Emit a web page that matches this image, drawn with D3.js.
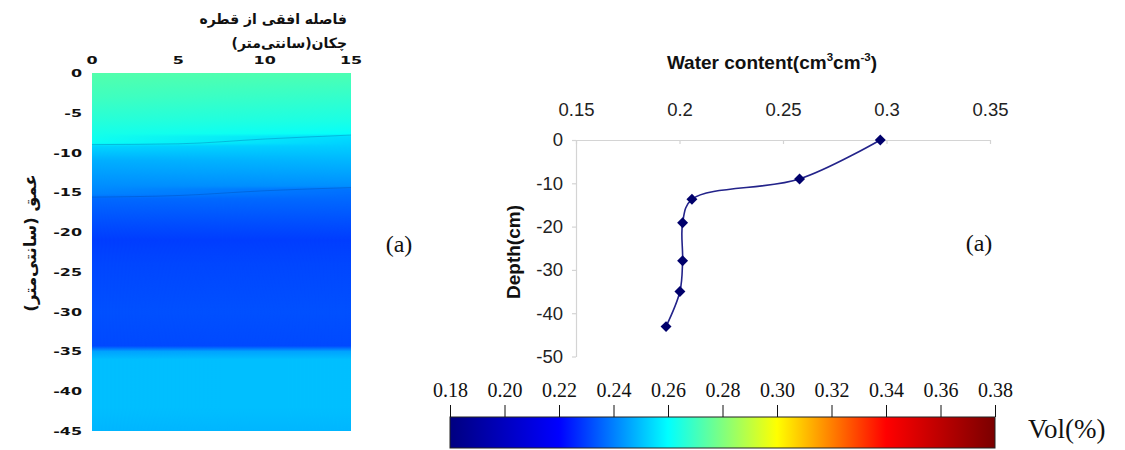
<!DOCTYPE html>
<html>
<head>
<meta charset="utf-8">
<script src="https://cdn.jsdelivr.net/npm/d3@7"></script>
<style>
  html, body { margin: 0; padding: 0; background: #fff; }
  svg { display: block; }
</style>
</head>
<body>
<svg id="chart" width="1125" height="450"></svg>
<script>
// ---------------- data ----------------
// Left panel: simulated water content profile (Vol) at x = 0 cm and x = 15 cm
const profileDepthLeft  = [0, -3, -6, -8.8, -9.2, -11, -15.2, -15.8, -19, -21, -24, -30, -34.3, -35, -36, -42, -45];
const profileValueLeft  = [0.273, 0.270, 0.266, 0.2615, 0.2535, 0.2475, 0.2405, 0.2365, 0.232, 0.2295, 0.231, 0.2325, 0.2315, 0.2455, 0.250, 0.250, 0.2485];
const profileDepthRight = [0, -3, -6, -7.6, -8.0, -11, -14.2, -14.6, -19, -21, -24, -30, -34.3, -35, -36, -42, -45];
const profileValueRight = [0.272, 0.268, 0.264, 0.2610, 0.2545, 0.2485, 0.2425, 0.238, 0.232, 0.2295, 0.231, 0.2325, 0.2315, 0.2455, 0.250, 0.250, 0.2485];
// faint contour lines in the left panel (distance cm, depth cm)
const contour1 = [[0, -9.0], [5, -8.9], [10, -8.3], [15, -7.8]];
const contour2 = [[0, -15.6], [5, -15.4], [10, -14.8], [15, -14.4]];
const heatXTicks = [0, 5, 10, 15];
const heatYTicks = [0, -5, -10, -15, -20, -25, -30, -35, -40, -45];

// Right panel: measured water content vs depth
const waterContent = [0.297, 0.258, 0.206, 0.2015, 0.2015, 0.2002, 0.1935];
const depth        = [0, -9, -13.7, -19.1, -27.9, -35, -43.1];
const wcTicks = [0.15, 0.2, 0.25, 0.3, 0.35];
const wcTickLabels = ["0.15", "0.2", "0.25", "0.3", "0.35"];
const depthTicks = [0, -10, -20, -30, -40, -50];

// Colour bar
const cbStops  = [0.18, 0.22, 0.26, 0.30, 0.34, 0.38];
const cbColors = ["#000080", "#0000ff", "#00ffff", "#ffff00", "#ff0000", "#7a0000"];
const cbTicks  = [0.18, 0.20, 0.22, 0.24, 0.26, 0.28, 0.30, 0.32, 0.34, 0.36, 0.38];

// ---------------- drawing ----------------
const svg = d3.select("#chart");
const defs = svg.append("defs");
const color = d3.scaleLinear().domain(cbStops).range(cbColors).interpolate(d3.interpolateRgb);

const SANS = "'Liberation Sans', Arial, sans-serif";
const SERIF = "'Liberation Serif', 'Times New Roman', serif";
const FA = "'DejaVu Sans', sans-serif";

// ----- left heat map -----
const hx = d3.scaleLinear([0, 15], [92, 351]);
const hy = d3.scaleLinear([0, -45], [73, 431]);

function profileGradient(id, depths, values) {
  const g = defs.append("linearGradient").attr("id", id)
    .attr("gradientUnits", "userSpaceOnUse")
    .attr("x1", 0).attr("x2", 0).attr("y1", hy(0)).attr("y2", hy(-45));
  g.selectAll("stop").data(depths.map((d, i) => [d, values[i]])).join("stop")
    .attr("offset", d => (hy(d[0]) - hy(0)) / (hy(-45) - hy(0)))
    .attr("stop-color", d => color(d[1]));
}
profileGradient("profL", profileDepthLeft, profileValueLeft);
profileGradient("profR", profileDepthRight, profileValueRight);

const blend = defs.append("linearGradient").attr("id", "blend")
  .attr("gradientUnits", "userSpaceOnUse")
  .attr("x1", hx(0)).attr("x2", hx(15)).attr("y1", 0).attr("y2", 0);
blend.append("stop").attr("offset", 0).attr("stop-color", "#fff").attr("stop-opacity", 0);
blend.append("stop").attr("offset", 1).attr("stop-color", "#fff").attr("stop-opacity", 1);
defs.append("mask").attr("id", "blendMask")
  .append("rect").attr("x", hx(0)).attr("y", hy(0))
  .attr("width", hx(15) - hx(0)).attr("height", hy(-45) - hy(0))
  .attr("fill", "url(#blend)");

const heat = svg.append("g");
heat.append("rect").attr("x", hx(0)).attr("y", hy(0))
  .attr("width", hx(15) - hx(0)).attr("height", hy(-45) - hy(0))
  .attr("fill", "url(#profL)");
heat.append("rect").attr("x", hx(0)).attr("y", hy(0))
  .attr("width", hx(15) - hx(0)).attr("height", hy(-45) - hy(0))
  .attr("fill", "url(#profR)").attr("mask", "url(#blendMask)");

const cline = d3.line().x(d => hx(d[0])).y(d => hy(d[1])).curve(d3.curveMonotoneX);
[contour1, contour2].forEach(c => {
  heat.append("path").attr("d", cline(c)).attr("fill", "none")
    .attr("stroke", "rgba(0,50,130,0.25)").attr("stroke-width", 1);
});

// heat map tick labels (bold, wide)
heat.selectAll(".hxl").data(heatXTicks).join("text")
  .attr("transform", d => `translate(${hx(d)},64) scale(1.45,1)`)
  .attr("text-anchor", "middle")
  .attr("font-family", FA).attr("font-weight", "bold").attr("font-size", 11)
  .attr("fill", "#111").text(d => String(d));
heat.selectAll(".hyl").data(heatYTicks).join("text")
  .attr("transform", d => `translate(82,${hy(d)}) scale(1.45,1)`)
  .attr("text-anchor", "end").attr("dy", "0.36em")
  .attr("font-family", FA).attr("font-weight", "bold").attr("font-size", 11)
  .attr("fill", "#111").text(d => String(d));

// Persian titles
svg.append("text").attr("x", 347).attr("y", 24)
  .attr("direction", "rtl").attr("text-anchor", "start")
  .attr("font-family", FA).attr("font-weight", "bold").attr("font-size", 14)
  .attr("fill", "#111").text("فاصله افقی از قطره");
svg.append("text").attr("x", 347).attr("y", 48)
  .attr("direction", "rtl").attr("text-anchor", "start")
  .attr("font-family", FA).attr("font-weight", "bold").attr("font-size", 14)
  .attr("fill", "#111").text("چکان(سانتی‌متر)");
svg.append("text").attr("transform", "translate(36,243) rotate(-90)")
  .attr("direction", "rtl").attr("text-anchor", "middle")
  .attr("font-family", FA).attr("font-weight", "bold").attr("font-size", 16.5)
  .attr("fill", "#111").text("عمق (سانتی‌متر)");

svg.append("text").attr("x", 399).attr("y", 252).attr("text-anchor", "middle")
  .attr("font-family", SERIF).attr("font-size", 24).attr("fill", "#111").text("(a)");

// ----- right line chart -----
const x = d3.scaleLinear([0.15, 0.35], [576, 990]);
const y = d3.scaleLinear([0, -50], [140, 356.5]);

const gx = svg.append("g").attr("transform", `translate(0,${y(0)})`)
  .call(d3.axisTop(x).tickValues(wcTicks).tickFormat((d, i) => wcTickLabels[i])
    .tickSizeInner(-4).tickSizeOuter(0).tickPadding(24));
const gy = svg.append("g").attr("transform", `translate(${x(0.15)},0)`)
  .call(d3.axisLeft(y).tickValues(depthTicks).tickFormat(d => String(d))
    .tickSizeInner(4).tickSizeOuter(0).tickPadding(9));
[gx, gy].forEach(g => {
  g.select(".domain").attr("stroke", "#d4d4d4").attr("stroke-width", 1.2);
  g.selectAll(".tick line").attr("stroke", "#d4d4d4").attr("stroke-width", 1.2);
  g.selectAll(".tick text").attr("font-family", SANS).attr("font-size", 18.5).attr("fill", "#222");
});

const pts = waterContent.map((w, i) => [w, depth[i]]);
const line = d3.line().x(d => x(d[0])).y(d => y(d[1])).curve(d3.curveCatmullRom.alpha(0.5));
svg.append("path").attr("d", line(pts)).attr("fill", "none")
  .attr("stroke", "#23238a").attr("stroke-width", 1.6);
svg.selectAll(".mk").data(pts).join("path")
  .attr("transform", d => `translate(${x(d[0])},${y(d[1])}) rotate(45)`)
  .attr("d", d3.symbol(d3.symbolSquare, 60)())
  .attr("fill", "#00006b");

const title = svg.append("text").attr("x", 772).attr("y", 69).attr("text-anchor", "middle")
  .attr("font-family", SANS).attr("font-weight", "bold").attr("font-size", 19).attr("fill", "#111");
title.append("tspan").text("Water content(cm");
title.append("tspan").attr("dy", -8).attr("font-size", 11.5).text("3");
title.append("tspan").attr("dy", 8).text("cm");
title.append("tspan").attr("dy", -8).attr("font-size", 11.5).text("-3");
title.append("tspan").attr("dy", 8).text(")");

svg.append("text").attr("transform", "translate(520,252) rotate(-90)").attr("text-anchor", "middle")
  .attr("font-family", SANS).attr("font-weight", "bold").attr("font-size", 19).attr("fill", "#111")
  .text("Depth(cm)");

svg.append("text").attr("x", 979).attr("y", 251).attr("text-anchor", "middle")
  .attr("font-family", SERIF).attr("font-size", 24).attr("fill", "#111").text("(a)");

// ----- colour bar -----
const cb = d3.scaleLinear([0.18, 0.38], [450, 995]);
const cbGrad = defs.append("linearGradient").attr("id", "cbGrad")
  .attr("gradientUnits", "userSpaceOnUse")
  .attr("x1", cb(0.18)).attr("x2", cb(0.38)).attr("y1", 0).attr("y2", 0);
cbGrad.selectAll("stop").data(cbStops).join("stop")
  .attr("offset", d => (d - 0.18) / 0.20)
  .attr("stop-color", d => color(d));
svg.append("rect").attr("x", cb(0.18)).attr("y", 417).attr("width", cb(0.38) - cb(0.18)).attr("height", 31)
  .attr("fill", "url(#cbGrad)").attr("stroke", "#222").attr("stroke-width", 1);
const gcb = svg.append("g").attr("transform", "translate(0,417)")
  .call(d3.axisTop(cb).tickValues(cbTicks).tickFormat(d3.format(".2f")).tickSizeInner(12).tickSizeOuter(0).tickPadding(8));
gcb.select(".domain").remove();
gcb.selectAll(".tick line").attr("stroke", "#111");
gcb.selectAll(".tick text").attr("font-family", SERIF).attr("font-size", 20).attr("fill", "#111");

svg.append("text").attr("x", 1028).attr("y", 438)
  .attr("font-family", SERIF).attr("font-size", 27).attr("fill", "#111").text("Vol(%)");
</script>
</body>
</html>
